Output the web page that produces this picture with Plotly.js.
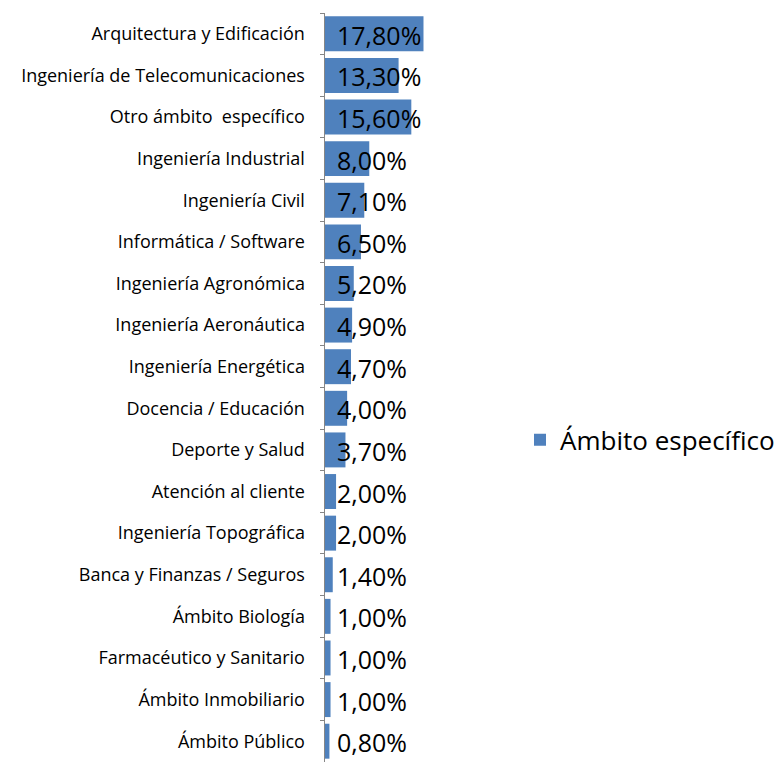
<!DOCTYPE html>
<html>
<head>
<meta charset="utf-8">
<script src="https://cdn.plot.ly/plotly-3.0.1.min.js"></script>
<style>html,body{margin:0;padding:0;background:#fff;}#chart{width:780px;height:762px;}</style>
</head>
<body>
<div id="chart"></div>
<script>
const categories = [
  "Arquitectura y Edificación",
  "Ingeniería de Telecomunicaciones",
  "Otro ámbito  específico",
  "Ingeniería Industrial",
  "Ingeniería Civil",
  "Informática / Software",
  "Ingeniería Agronómica",
  "Ingeniería Aeronáutica",
  "Ingeniería Energética",
  "Docencia / Educación",
  "Deporte y Salud",
  "Atención al cliente",
  "Ingeniería Topográfica",
  "Banca y Finanzas / Seguros",
  "Ámbito Biología",
  "Farmacéutico y Sanitario",
  "Ámbito Inmobiliario",
  "Ámbito Público"
];
const values = [17.8, 13.3, 15.6, 8.0, 7.1, 6.5, 5.2, 4.9, 4.7, 4.0, 3.7, 2.0, 2.0, 1.4, 1.0, 1.0, 1.0, 0.8];
const valueLabels = ["17,80%","13,30%","15,60%","8,00%","7,10%","6,50%","5,20%","4,90%","4,70%","4,00%","3,70%","2,00%","2,00%","1,40%","1,00%","1,00%","1,00%","0,80%"];
const seriesName = "Ámbito específico";

const FONT = "Open Sans, Noto Sans, sans-serif";

const trace = {
  type: "bar",
  orientation: "h",
  x: values,
  y: categories,
  name: seriesName,
  marker: {color: "#4f81bd"},
  hoverinfo: "none"
};

const annotations = categories.map((c, i) => ({
  x: 0, y: c, xref: "x", yref: "y",
  text: valueLabels[i],
  showarrow: false,
  xanchor: "left",
  xshift: 10,
  yshift: -1,
  font: {family: FONT, size: 25, color: "#000"}
}));

const layout = {
  width: 780, height: 762,
  margin: {l: 325, r: 288, t: 13, b: 0, pad: 0},
  paper_bgcolor: "#fff",
  plot_bgcolor: "#fff",
  bargap: 0.16,
  showlegend: true,
  legend: {
    x: 1.175, xanchor: "left", y: 0.43, yanchor: "middle",
    font: {family: FONT, size: 26, color: "#000"},
    bgcolor: "rgba(0,0,0,0)"
  },
  xaxis: {
    visible: false,
    range: [0, 30],
    fixedrange: true
  },
  yaxis: {
    type: "category",
    autorange: "reversed",
    showline: true,
    linecolor: "#868686",
    linewidth: 1.5,
    ticks: "outside",
    tickson: "boundaries",
    ticklen: 4,
    tickcolor: "#868686",
    tickwidth: 1,
    ticklabelstandoff: 15,
    showgrid: false,
    zeroline: false,
    tickfont: {family: FONT, size: 18, color: "#000"}
  },
  annotations: annotations
};

Plotly.newPlot("chart", [trace], layout, {displayModeBar: false, staticPlot: true});
</script>
</body>
</html>
